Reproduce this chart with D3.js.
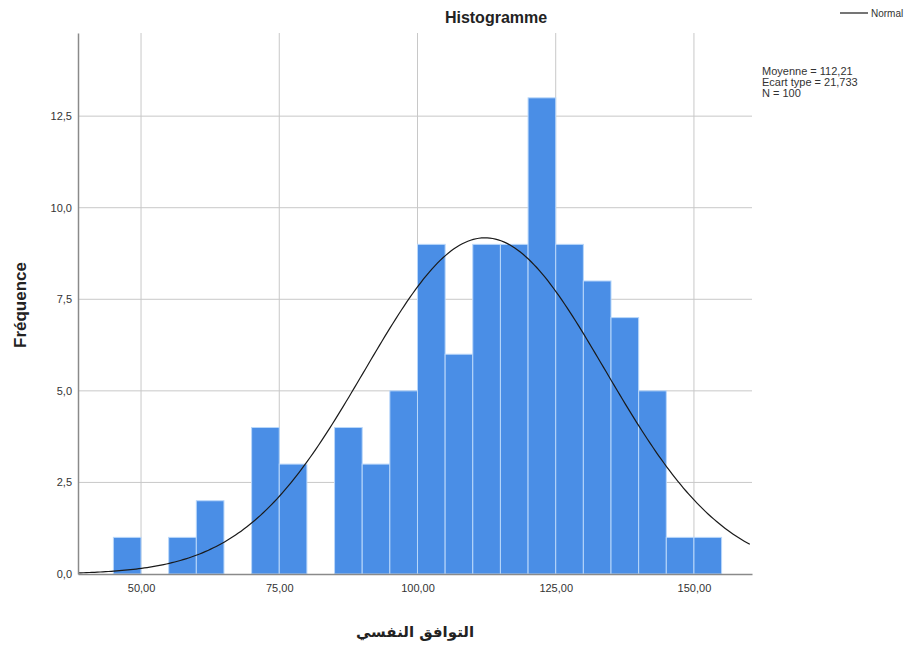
<!DOCTYPE html>
<html>
<head>
<meta charset="utf-8">
<script src="https://cdn.jsdelivr.net/npm/d3@7"></script>
<style>
  body { margin: 0; background: #fff; }
  svg text { font-family: "Liberation Sans Narrow", "Liberation Sans", Arial, sans-serif; }
</style>
</head>
<body>
<div id="chart"></div>
<script>
// histogram data (5-unit bins)
const binStarts = [45, 50, 55, 60, 65, 70, 75, 80, 85, 90, 95, 100, 105, 110, 115, 120, 125, 130, 135, 140, 145, 150];
const counts    = [1, 0, 1, 2, 0, 4, 3, 0, 4, 3, 5, 9, 6, 9, 9, 13, 9, 8, 7, 5, 1, 1];
const binWidth = 5;
const xTicks = [50, 75, 100, 125, 150];
const yTicks = [0, 2.5, 5, 7.5, 10, 12.5];
const mean = 112.21, sd = 21.733, n = 100;
const statsLines = ["Moyenne = 112,21", "Ecart type = 21,733", "N = 100"];

const W = 905, H = 649;
const margin = { top: 33, left: 78, right: 153, bottom: 75 };
const width = W - margin.left - margin.right;
const height = H - margin.top - margin.bottom;

const svg = d3.select("#chart").append("svg")
    .attr("width", W).attr("height", H);

const g = svg.append("g")
    .attr("transform", `translate(${margin.left}, ${margin.top})`);

const x = d3.scaleLinear().domain([38.6, 160.5]).range([0, width]);
const y = d3.scaleLinear().domain([0, 14.77]).range([height, 0]);

const fmt = d => d.toFixed(d >= 50 ? 2 : 1).replace(".", ",");

// grid
g.selectAll(".hgrid").data(yTicks.filter(d => d > 0)).enter()
    .append("line")
    .attr("x1", 0).attr("x2", width)
    .attr("y1", d => y(d)).attr("y2", d => y(d))
    .attr("stroke", "#c8c8c8").attr("stroke-width", 1);
g.selectAll(".vgrid").data(xTicks).enter()
    .append("line")
    .attr("x1", d => x(d)).attr("x2", d => x(d))
    .attr("y1", 0).attr("y2", height)
    .attr("stroke", "#c8c8c8").attr("stroke-width", 1);

// bars
g.selectAll(".bar")
    .data(binStarts.map((s, i) => ({ s, c: counts[i] })).filter(d => d.c > 0))
    .enter()
    .append("rect")
    .attr("x", d => x(d.s))
    .attr("y", d => y(d.c))
    .attr("width", d => x(d.s + binWidth) - x(d.s))
    .attr("height", d => height - y(d.c))
    .attr("fill", "#4a8ee6")
    .attr("stroke", "#b9d7fa")
    .attr("stroke-width", 1);

// normal curve
const pdf = v => n * binWidth / (sd * Math.sqrt(2 * Math.PI)) * Math.exp(-0.5 * ((v - mean) / sd) ** 2);
const curvePts = d3.range(38.6, 160.6, 0.5);
g.append("path")
    .datum(curvePts)
    .attr("fill", "none")
    .attr("stroke", "#1a1a1a")
    .attr("stroke-width", 1.2)
    .attr("d", d3.line().x(d => x(d)).y(d => y(pdf(d))));

// axes
const yAxis = g.append("g")
    .call(d3.axisLeft(y).tickValues(yTicks).tickSize(0).tickPadding(6).tickFormat(fmt));
const xAxis = g.append("g")
    .attr("transform", `translate(0, ${height})`)
    .call(d3.axisBottom(x).tickValues(xTicks).tickSize(0).tickPadding(10).tickFormat(fmt));
[yAxis, xAxis].forEach(a => {
    a.select(".domain").attr("stroke", "#8a8a8a").attr("stroke-width", 1.5);
    a.selectAll("text").attr("font-size", 11).attr("fill", "#333")
        .style("font-family", "'Liberation Sans Narrow', 'Liberation Sans', Arial, sans-serif");
});

// title and axis labels
svg.append("text")
    .attr("x", 496).attr("y", 23)
    .attr("text-anchor", "middle")
    .attr("font-size", 16).attr("font-weight", "bold").attr("fill", "#222")
    .style("font-family", "'Liberation Sans', Arial, sans-serif")
    .text("Histogramme");

svg.append("text")
    .attr("transform", "translate(26, 305) rotate(-90)")
    .attr("text-anchor", "middle")
    .attr("font-size", 17).attr("font-weight", "bold").attr("fill", "#222")
    .style("font-family", "'Liberation Sans', Arial, sans-serif")
    .text("Fréquence");

svg.append("text")
    .attr("x", 415).attr("y", 637)
    .attr("text-anchor", "middle")
    .attr("font-size", 15).attr("font-weight", "bold").attr("fill", "#222")
    .attr("direction", "rtl")
    .style("font-family", "'DejaVu Sans', 'Noto Sans', sans-serif")
    .text("التوافق النفسي");

// legend
svg.append("line")
    .attr("x1", 840).attr("x2", 868).attr("y1", 13).attr("y2", 13)
    .attr("stroke", "#1a1a1a").attr("stroke-width", 1.2);
svg.append("text")
    .attr("x", 871).attr("y", 17)
    .attr("font-size", 10).attr("fill", "#333")
    .text("Normal");

svg.append("g").selectAll("text").data(statsLines).enter()
    .append("text")
    .attr("x", 762).attr("y", (d, i) => 75 + i * 11)
    .attr("font-size", 11).attr("fill", "#333")
    .text(d => d);
</script>
</body>
</html>
